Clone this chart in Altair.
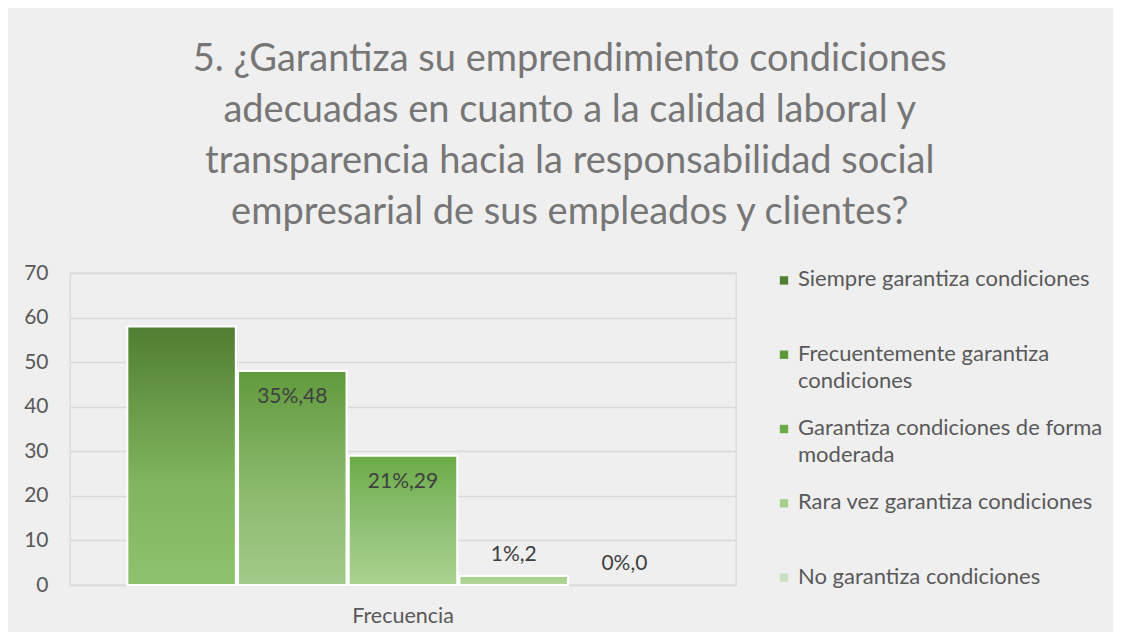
import altair as alt
import pandas as pd

# ---------------- data ----------------
categoria = ["Frecuencia"]
series = [
    "Siempre garantiza condiciones",
    "Frecuentemente garantiza condiciones",
    "Garantiza condiciones de forma moderada",
    "Rara vez garantiza condiciones",
    "No garantiza condiciones",
]
legend_text = [
    "Siempre garantiza condiciones",
    "Frecuentemente garantiza\ncondiciones",
    "Garantiza condiciones de forma\nmoderada",
    "Rara vez garantiza condiciones",
    "No garantiza condiciones",
]
valores = [58, 48, 29, 2, 0]
porcentajes = [42, 35, 21, 1, 0]
mostrar_etiqueta = [False, True, True, True, True]
y_ticks = [0, 10, 20, 30, 40, 50, 60, 70]

titulo = [
    "5. ¿Garantiza su emprendimiento condiciones",
    "adecuadas en cuanto a la calidad laboral y",
    "transparencia hacia la responsabilidad social",
    "empresarial de sus empleados y clientes?",
]

# gradient colours (top, middle, bottom) per series
grad_top = ["#507e32", "#619a3d", "#6bab47", "#a6cf8b", "#c5e0b4"]
grad_mid = ["#80b45d", "#8dbb6f", "#93c47a", "#acd292", "#cce4bd"]
grad_bot = ["#8fc26e", "#a2ca89", "#aad28f", "#b3d79c", "#d5e9c8"]
legend_colors = ["#507f31", "#5d9a3b", "#6caa48", "#a8cf8e", "#c8dfc0"]

FONT = "Lato"
GRID = "#d9d9d9"

df = pd.DataFrame({
    "grupo": categoria * len(series),
    "serie": series,
    "leyenda": legend_text,
    "valor": valores,
    "pct": porcentajes,
    "mostrar": mostrar_etiqueta,
})
df["etiqueta"] = [f"{p}%,{v}" for p, v in zip(df["pct"], df["valor"])]

W, H = 666, 312

base = alt.Chart(df)

x_enc = alt.X(
    "grupo:N",
    scale=alt.Scale(paddingInner=0, paddingOuter=0.104),
    axis=alt.Axis(
        title=None, labelAngle=0, labelFontSize=21.5, labelFont=FONT,
        labelColor="#595959", labelPadding=20, ticks=False, domain=False,
    ),
)
xoff_enc = alt.XOffset(
    "serie:N", sort=series,
    scale=alt.Scale(domain=series, paddingInner=0.02, paddingOuter=0),
)
y_enc = alt.Y(
    "valor:Q",
    scale=alt.Scale(domain=[0, 70], nice=False),
    axis=alt.Axis(
        title=None, values=y_ticks, labelFontSize=21, labelFont=FONT,
        labelColor="#595959", labelPadding=22, ticks=False, domain=False,
        gridColor=GRID, gridWidth=1.3,
    ),
)

bar_layers = []
for i, s in enumerate(series):
    grad = alt.Gradient(
        gradient="linear",
        stops=[
            alt.GradientStop(color=grad_top[i], offset=0),
            alt.GradientStop(color=grad_mid[i], offset=0.6),
            alt.GradientStop(color=grad_bot[i], offset=1),
        ],
        x1=0, x2=0, y1=0, y2=1,
    )
    bar_layers.append(
        base.transform_filter((alt.datum.serie == s) & (alt.datum.valor > 0))
        .mark_bar(color=grad, stroke="white", strokeWidth=2)
        .encode(x=x_enc, xOffset=xoff_enc, y=y_enc)
    )

lab_in = (
    base.transform_filter("datum.mostrar && datum.valor >= 10")
    .mark_text(font=FONT, fontSize=21, color="#404040", baseline="middle", dy=26)
    .encode(x=x_enc, xOffset=xoff_enc, y=y_enc, text="etiqueta:N")
)
lab_out = (
    base.transform_filter("datum.mostrar && datum.valor < 10")
    .mark_text(font=FONT, fontSize=21, color="#404040", baseline="middle", dy=-21)
    .encode(x=x_enc, xOffset=xoff_enc, y=y_enc, text="etiqueta:N")
)

main = alt.layer(*bar_layers, lab_in, lab_out).properties(
    width=W, height=H, view=alt.ViewBackground(stroke=GRID, strokeWidth=1.3)
)

# ---------------- legend panel ----------------
ly = alt.Y("serie:N", sort=series,
           scale=alt.Scale(type="point", padding=0.1), axis=None)
leg_sq = base.mark_square(size=70, opacity=1).encode(
    x=alt.value(6), y=ly,
    color=alt.Color("serie:N", sort=series,
                    scale=alt.Scale(domain=series, range=legend_colors), legend=None),
)
leg_tx = base.mark_text(
    font=FONT, fontSize=22, color="#595959", align="left", baseline="top",
    dy=-11, lineBreak="\n", lineHeight=27,
).encode(x=alt.value(20), y=ly, text="leyenda:N")

legend = alt.layer(leg_sq, leg_tx).properties(
    width=330, height=H, view=alt.ViewBackground(stroke="transparent")
)

chart = alt.hconcat(main, legend, spacing=42, bounds="flush").properties(
    title=alt.TitleParams(
        text=titulo, font=FONT, fontSize=38, fontWeight="normal",
        color="#767676", lineHeight=51, anchor="middle", frame="bounds",
        offset=29, dx=4,
    ),
    padding={"left": 14, "top": 33, "right": 4, "bottom": 4},
    background="#efefef",
)

chart.save("out.html", embed_options={"renderer": "svg", "actions": False})
